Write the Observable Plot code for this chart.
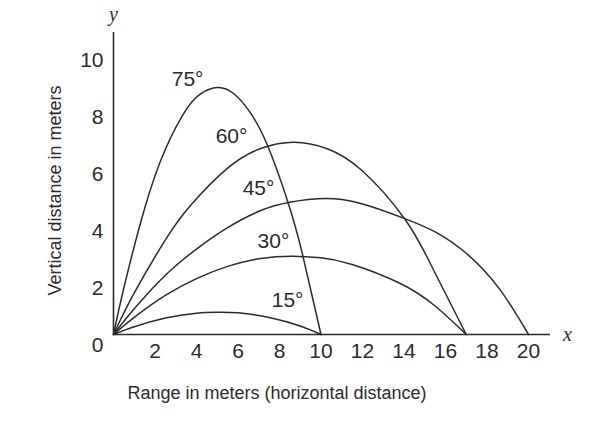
<!DOCTYPE html>
<html>
<head>
<meta charset="utf-8">
<script src="https://cdn.jsdelivr.net/npm/d3@7"></script>
<script src="https://cdn.jsdelivr.net/npm/@observablehq/plot@0.6"></script>
<style>
  html, body { margin: 0; padding: 0; background: #fff; }
  #chart { width: 604px; height: 430px; }
  svg { display: block; }
</style>
</head>
<body>
<div id="chart"></div>
<script>
// ---- Data ----
const angleLabels = ["15°", "30°", "45°", "60°", "75°"];

const x15 = [0, 1, 2.5, 4, 5, 6, 7.5, 9, 10];
const y15 = [0, 0.27, 0.58, 0.75, 0.78, 0.76, 0.6, 0.3, 0];

const x30 = [0, 1, 2.5, 4, 5.5, 7.1, 8.6, 10, 11.5, 13.8, 15.5, 17];
const y30 = [0, 0.6, 1.37, 1.96, 2.39, 2.67, 2.75, 2.69, 2.46, 1.8, 1.0, 0];

const x45 = [0, 1, 2.5, 4, 5.5, 7.1, 8.5, 10.2, 12, 14.1, 15.5, 17, 18.6, 20];
const y45 = [0, 0.9, 2.08, 3.0, 3.75, 4.35, 4.64, 4.77, 4.58, 4.05, 3.6, 2.85, 1.6, 0];

const x60 = [0, 1, 2.5, 3.7, 5.5, 7.1, 8.7, 10.3, 12, 14.07, 15.4, 17];
const y60 = [0, 1.46, 3.32, 4.52, 5.84, 6.53, 6.75, 6.52, 5.74, 4.02, 2.3, 0];

const x75 = [0, 0.5, 1.5, 2.5, 3.5, 4.2, 5.0, 5.8, 6.6, 7.42, 8.4, 9.1, 10];
const y75 = [0, 1.64, 4.42, 6.5, 7.89, 8.45, 8.67, 8.45, 7.78, 6.64, 4.66, 2.84, 0];

// label positions (centre of text)
const labelX = [8.39, 7.71, 6.99, 5.69, 3.57];
const labelY = [1.19, 3.26, 5.12, 6.95, 8.95];

const xTicks = [2, 4, 6, 8, 10, 12, 14, 16, 18, 20];
const yTicks = [0, 2, 4, 6, 8, 10];

const xTitle = "Range in meters (horizontal distance)";
const yTitle = "Vertical distance in meters";

// ---- Build table ----
const series = [[x15, y15], [x30, y30], [x45, y45], [x60, y60], [x75, y75]];
const rows = [];
series.forEach(([xs, ys], i) => {
  xs.forEach((x, j) => rows.push({angle: angleLabels[i], x, y: ys[j]}));
});
const labels = angleLabels.map((a, i) => ({angle: a, x: labelX[i], y: labelY[i]}));

const ink = "#2b2b2b";
const sans = "'Liberation Sans', Arial, Helvetica, sans-serif";
const serif = "'Liberation Serif', 'Times New Roman', serif";

const chart = Plot.plot({
  width: 604,
  height: 430,
  marginLeft: 113,
  marginRight: 54,
  marginTop: 32,
  marginBottom: 96,
  style: {background: "#fff", fontFamily: sans, color: ink, overflow: "visible"},
  x: {domain: [0, 21.06]},
  y: {domain: [0, 10.6]},
  marks: [
    Plot.axisX({ticks: xTicks, tickSize: 0, tickPadding: 9, fontSize: 21, label: null, fill: ink}),
    Plot.axisY({ticks: yTicks, tickSize: 0, tickPadding: 10, fontSize: 21, label: null, dy: 11, fill: ink}),
    Plot.ruleY([0], {x1: 0, x2: 21.06, stroke: ink, strokeWidth: 1.6}),
    Plot.ruleX([0], {y1: 0, y2: 10.6, stroke: ink, strokeWidth: 1.6}),
    Plot.line(rows, {x: "x", y: "y", z: "angle", curve: "natural", stroke: ink, strokeWidth: 1.5}),
    Plot.text(labels, {x: "x", y: "y", text: "angle", fontSize: 21, fill: ink, textAnchor: "middle"}),
    Plot.text(["x"], {x: 21.06, y: 0, dx: 17, text: d => d, fontFamily: serif, fontStyle: "italic", fontSize: 20, fill: ink}),
    Plot.text(["y"], {x: 0, y: 10.6, dy: -18, text: d => d, fontFamily: serif, fontStyle: "italic", fontSize: 20, fill: ink}),
    Plot.text([xTitle], {frameAnchor: "bottom", dx: -55, dy: 59, lineAnchor: "middle", textAnchor: "middle", text: d => d, fontSize: 18, fill: ink}),
    Plot.text([yTitle], {frameAnchor: "left", dx: -58, dy: 7, rotate: -90, lineAnchor: "middle", textAnchor: "middle", text: d => d, fontSize: 18, fill: ink})
  ]
});
document.getElementById("chart").appendChild(chart);
</script>
</body>
</html>
